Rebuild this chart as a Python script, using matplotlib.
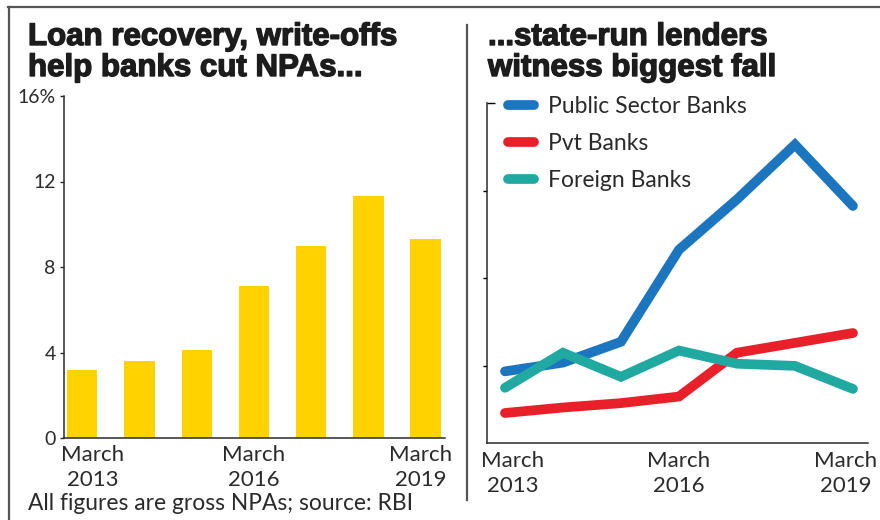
import numpy as np
import matplotlib as mpl
mpl.use('Agg')
import matplotlib.pyplot as plt
import matplotlib.patheffects as pe
from matplotlib.lines import Line2D
from matplotlib.transforms import ScaledTranslation

# gross NPA ratio, March of each year (%)
years = [2013, 2014, 2015, 2016, 2017, 2018, 2019]
all_banks = [3.2, 3.6, 4.1, 7.1, 9.0, 11.3, 9.3]
public_sector = [3.75, 4.15, 5.1, 9.3, 11.6, 14.1, 11.3]
pvt_banks = [1.85, 2.1, 2.3, 2.6, 4.6, 5.05, 5.5]
foreign_banks = [3.0, 4.6, 3.5, 4.7, 4.1, 4.0, 2.95]

series_names = ['Public Sector Banks', 'Pvt Banks', 'Foreign Banks']
series_colors = ['#1b75bf', '#e8202a', '#1fa9a0']

xtick_years = [2013, 2016, 2019]
xtick_labels = ['March\n2013', 'March\n2016', 'March\n2019']
ytick_vals = [0, 4, 8, 12, 16]
ytick_labels = ['0', '4', '8', '12', '16%']

INK = '#2a2a2a'
BODY = 'Lato'
HEAD = 'Liberation Sans'

plt.rcParams['font.family'] = [BODY, 'DejaVu Sans']
plt.rcParams['axes.linewidth'] = 1.1
plt.rcParams['axes.edgecolor'] = INK

fig = plt.figure(figsize=(8.8, 5.2), dpi=100)
fig.patch.set_facecolor('white')

x = np.arange(len(years))


def shift_edge_labels(ax, left_px, right_px):
    labels = ax.get_xticklabels()
    labels[0].set_transform(labels[0].get_transform() +
                            ScaledTranslation(left_px / 100, 0, fig.dpi_scale_trans))
    labels[-1].set_transform(labels[-1].get_transform() +
                             ScaledTranslation(right_px / 100, 0, fig.dpi_scale_trans))


# --- left panel: all banks, bars
ax1 = fig.add_axes([64 / 880, 82 / 520, 381 / 880, 342 / 520])
ax1.bar(x, all_banks, width=0.53, color='#ffd200', zorder=2)
ax1.set_xlim(-0.32, 6.34)
ax1.set_ylim(0, 16)
ax1.set_yticks(ytick_vals)
ax1.set_yticklabels(ytick_labels)
ax1.set_xticks([years.index(y) for y in xtick_years])
ax1.set_xticklabels(xtick_labels, linespacing=1.3)
ax1.set_yticks([16], minor=True)
ax1.tick_params(axis='y', which='major', direction='out', length=3, width=1,
                pad=3, labelsize=14, colors=INK)
ax1.tick_params(axis='y', which='minor', direction='in', length=6, width=1)
ax1.tick_params(axis='x', length=0, pad=5, labelsize=16, colors=INK)
shift_edge_labels(ax1, 10, -5)
for s in ['top', 'right']:
    ax1.spines[s].set_visible(False)

# --- right panel: by bank group, lines
ax2 = fig.add_axes([487 / 880, 77 / 520, 381 / 880, 340 / 520])
for vals, name, col in zip([public_sector, pvt_banks, foreign_banks],
                           series_names, series_colors):
    ax2.plot(x, vals, color=col, lw=7, solid_capstyle='round',
             solid_joinstyle='miter', label=name)
ax2.set_xlim(-0.31, 6.26)
ax2.set_ylim(0.48, 16)
ax2.set_yticks(ytick_vals[1:4])
ax2.set_yticklabels([])
ax2.set_yticks([16], minor=True)
ax2.tick_params(axis='y', which='major', direction='out', length=3, width=1)
ax2.tick_params(axis='y', which='minor', direction='in', length=6, width=1)
ax2.set_xticks([years.index(y) for y in xtick_years])
ax2.set_xticklabels(xtick_labels, linespacing=1.3)
ax2.tick_params(axis='x', length=0, pad=6, labelsize=16, colors=INK)
shift_edge_labels(ax2, 8, -7)
for s in ['top', 'right']:
    ax2.spines[s].set_visible(False)

leg = ax2.legend(loc='upper left', bbox_to_anchor=(0.056, 1.021), frameon=False,
                 fontsize=16.5, handlelength=1.1, handletextpad=0.65,
                 labelspacing=0.7, borderpad=0, borderaxespad=0)
for t in leg.get_texts():
    t.set_color(INK)

# --- headlines and footer
head = dict(family=[HEAD, 'DejaVu Sans'], fontsize=22.5, fontweight='bold',
            color='#1c1c1c', va='baseline',
            path_effects=[pe.withStroke(linewidth=1.0, foreground='#1c1c1c')])
fig.text(28 / 880, 1 - 45 / 520, 'Loan recovery, write-offs', **head)
fig.text(28 / 880, 1 - 76 / 520, 'help banks cut NPAs...', **head)
fig.text(488 / 880, 1 - 45 / 520, '...state-run lenders', **head)
fig.text(488 / 880, 1 - 76 / 520, 'witness biggest fall', **head)
fig.text(28 / 880, 1 - 510 / 520, 'All figures are gross NPAs; source: RBI',
         fontsize=16.4, color=INK, va='baseline')

# frame rules
rule = dict(color='#555555', lw=1.6, transform=fig.transFigure)
fig.add_artist(Line2D([8 / 880, 1], [1 - 7 / 520] * 2, **rule))
fig.add_artist(Line2D([9 / 880] * 2, [0, 1 - 7 / 520], **rule))
fig.add_artist(Line2D([467 / 880] * 2, [1 - 500 / 520, 1 - 25 / 520], **rule))

fig.savefig('out.png', dpi=100, facecolor='white')
